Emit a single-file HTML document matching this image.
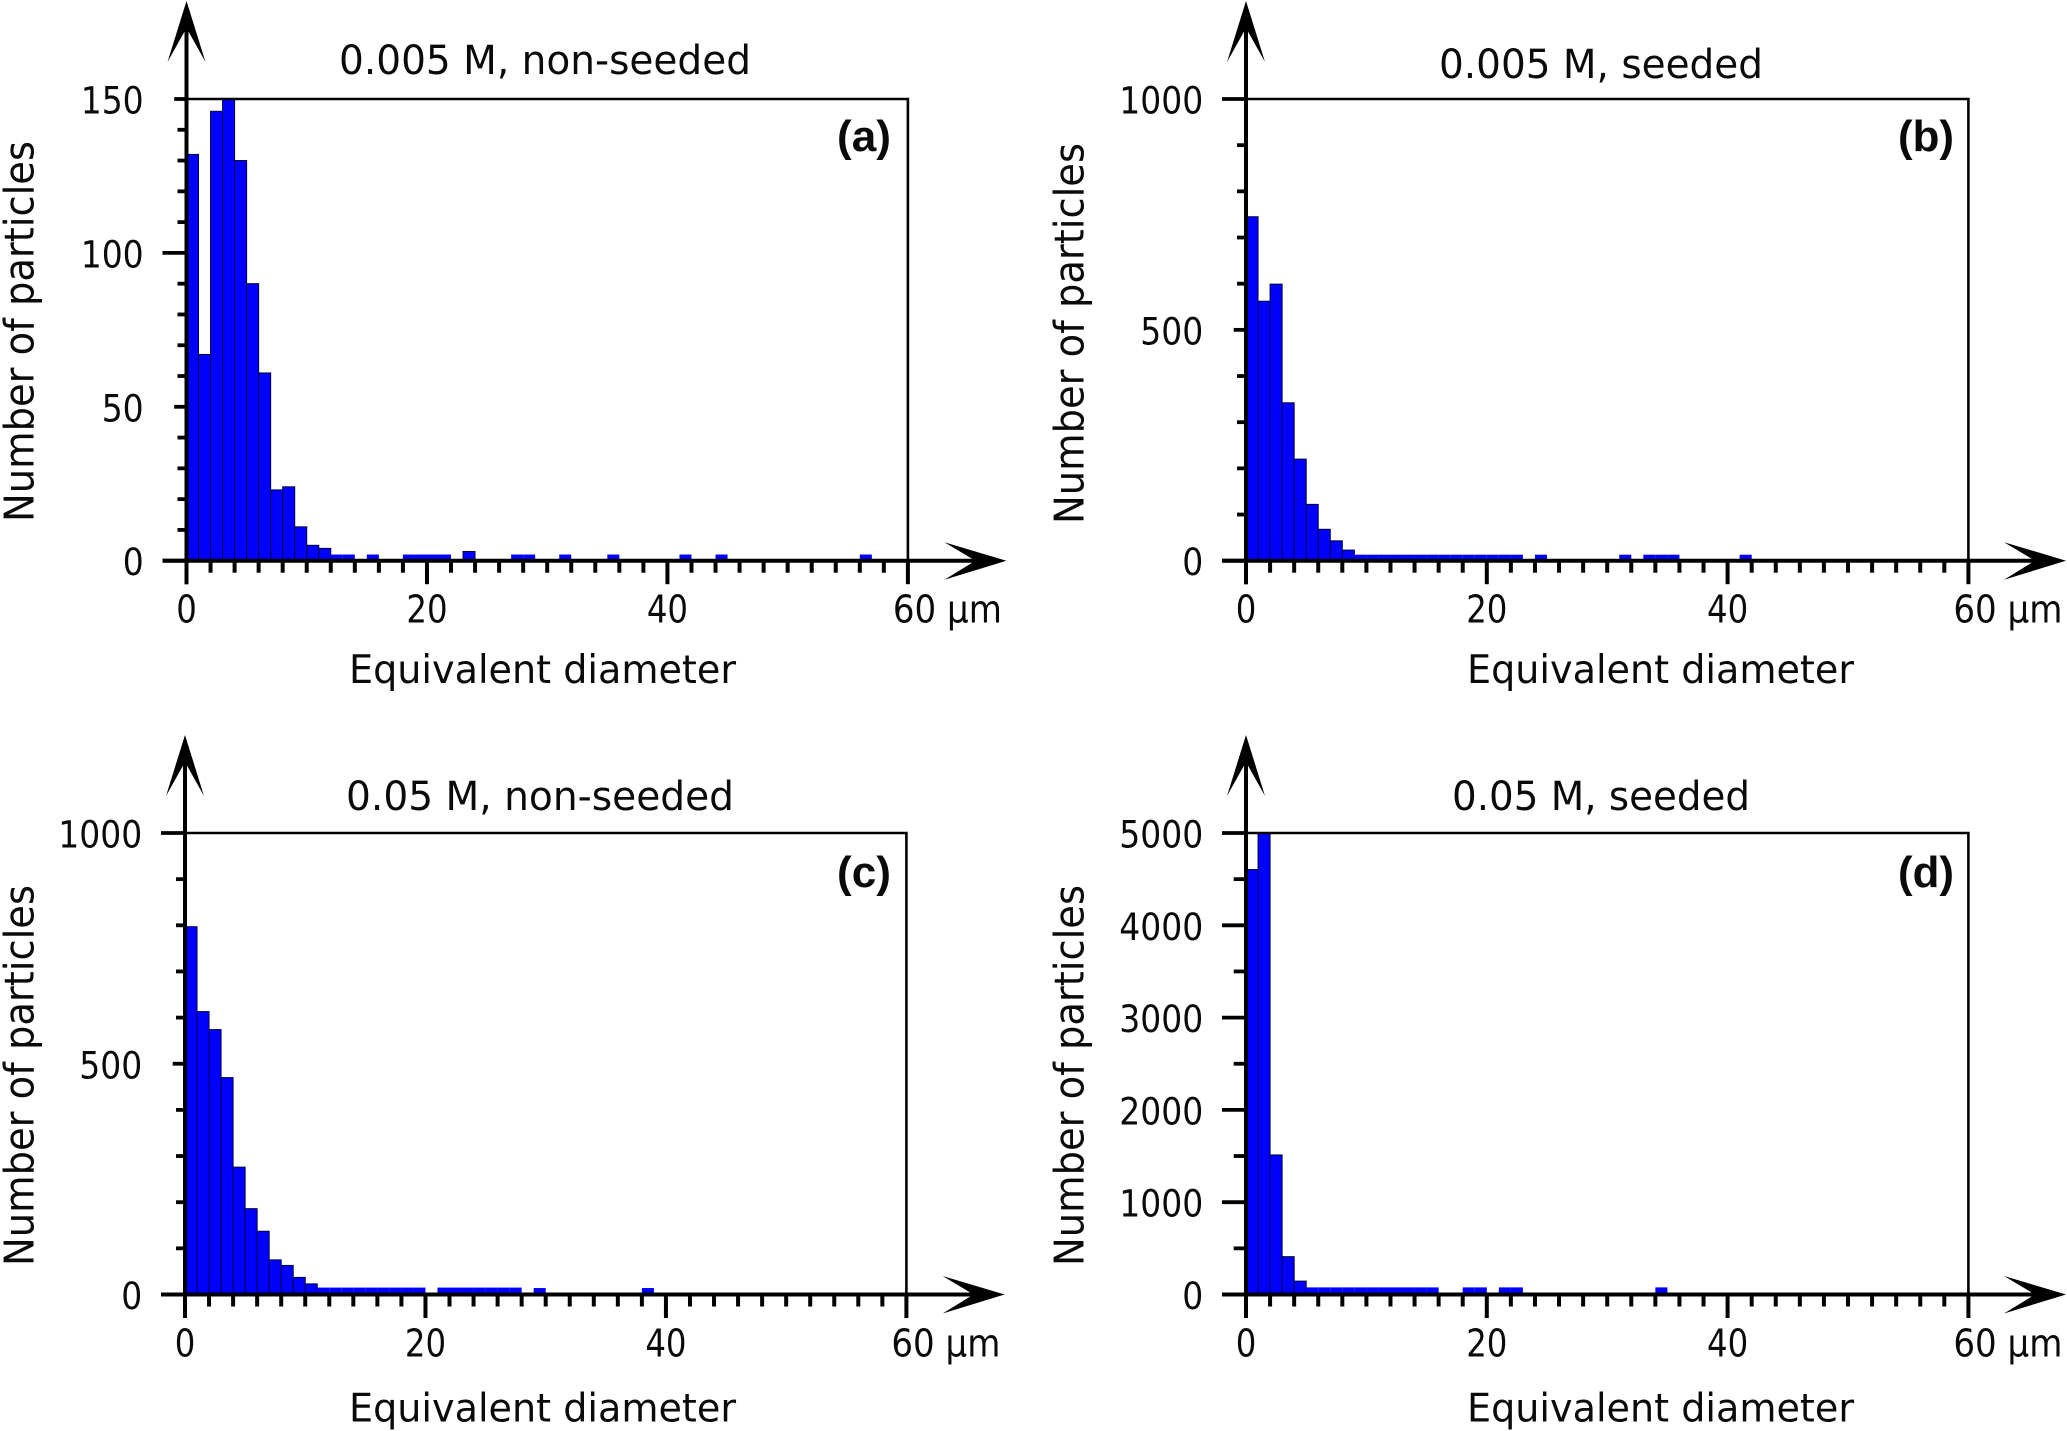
<!DOCTYPE html>
<html>
<head>
<meta charset="utf-8">
<title>Particle size histograms</title>
<style>
html,body{margin:0;padding:0;background:#fff;}
svg{display:block;}
text{font-family:"DejaVu Sans","Liberation Sans",sans-serif;fill:#0a0a0a;}
.title{font-size:40px;}
.xtitle{font-size:39px;}
.ytitle{font-size:41px;}
.letter{font-family:"Liberation Sans",sans-serif;font-weight:bold;font-size:44px;}
.tick-y{font-size:37px;}
.tick-x{font-size:38px;}
</style>
</head>
<body>
<svg id="figure" xmlns="http://www.w3.org/2000/svg" width="2067" height="1431" viewBox="0 0 2067 1431">
<rect x="0" y="0" width="2067" height="1431" fill="#ffffff"/>

<g id="panel-a">
<text class="title" x="339" y="74" textLength="412" lengthAdjust="spacingAndGlyphs">0.005 M, non-seeded</text>
<text class="letter" x="837" y="151" textLength="54" lengthAdjust="spacingAndGlyphs">(a)</text>
<text class="xtitle" x="349" y="683" textLength="387" lengthAdjust="spacingAndGlyphs">Equivalent diameter</text>
<text class="ytitle" transform="translate(33.5,522) rotate(-90)" x="0" y="0" textLength="381" lengthAdjust="spacingAndGlyphs">Number of particles</text>
</g>

<g id="panel-b">
<text class="title" x="1439" y="78" textLength="324" lengthAdjust="spacingAndGlyphs">0.005 M, seeded</text>
<text class="letter" x="1898" y="151" textLength="56" lengthAdjust="spacingAndGlyphs">(b)</text>
<text class="xtitle" x="1467" y="683" textLength="387" lengthAdjust="spacingAndGlyphs">Equivalent diameter</text>
<text class="ytitle" transform="translate(1083.5,524) rotate(-90)" x="0" y="0" textLength="381" lengthAdjust="spacingAndGlyphs">Number of particles</text>
</g>

<g id="panel-c">
<text class="title" x="346" y="810" textLength="388" lengthAdjust="spacingAndGlyphs">0.05 M, non-seeded</text>
<text class="letter" x="837" y="887" textLength="54" lengthAdjust="spacingAndGlyphs">(c)</text>
<text class="xtitle" x="349" y="1421.7" textLength="387" lengthAdjust="spacingAndGlyphs">Equivalent diameter</text>
<text class="ytitle" transform="translate(33.5,1266) rotate(-90)" x="0" y="0" textLength="381" lengthAdjust="spacingAndGlyphs">Number of particles</text>
</g>

<g id="panel-d">
<text class="title" x="1452" y="810" textLength="298" lengthAdjust="spacingAndGlyphs">0.05 M, seeded</text>
<text class="letter" x="1898" y="887" textLength="56" lengthAdjust="spacingAndGlyphs">(d)</text>
<text class="xtitle" x="1467" y="1421.7" textLength="387" lengthAdjust="spacingAndGlyphs">Equivalent diameter</text>
<text class="ytitle" transform="translate(1083.5,1266) rotate(-90)" x="0" y="0" textLength="381" lengthAdjust="spacingAndGlyphs">Number of particles</text>
</g>
</svg>

<script>
// ---- data: counts per 1 µm bin (bin 0 = 0-1 µm) ----
var countsA = [132,67,146,150,130,90,61,23,24,11,5,4,2,2,0,2,0,0,2,2,2,2,0,3,0,0,0,2,2,0,0,2,0,0,0,2,0,0,0,0,0,2,0,0,2,0,0,0,0,0,0,0,0,0,0,0,2,0,0,0];
var countsB = [745,562,599,342,220,122,68,43,23,13,13,13,13,13,13,13,13,13,13,13,13,13,13,0,13,0,0,0,0,0,0,13,0,13,13,13,0,0,0,0,0,13,0,0,0,0,0,0,0,0,0,0,0,0,0,0,0,0,0,0];
var countsC = [797,613,574,470,276,186,137,75,63,37,23,15,15,15,15,15,15,15,15,15,0,15,15,15,15,15,15,15,0,14,0,0,0,0,0,0,0,0,14,0,0,0,0,0,0,0,0,0,0,0,0,0,0,0,0,0,0,0,0,0];
var countsD = [4604,5000,1512,410,145,77,77,77,77,77,77,77,77,77,77,77,0,0,77,77,0,77,77,0,0,0,0,0,0,0,0,0,0,0,77,0,0,0,0,0,0,0,0,0,0,0,0,0,0,0,0,0,0,0,0,0,0,0,0,0];

var xTickValues = [0,20,40,60];
var xTickLabels = ['0','20','40','60 µm'];
var xMinorStep = 2;
var xMax = 60;

var yTickValuesA = [0,50,100,150];
var yTickLabelsA = ['0','50','100','150'];
var yTickValuesB = [0,500,1000];
var yTickLabelsB = ['0','500','1000'];
var yTickValuesC = [0,500,1000];
var yTickLabelsC = ['0','500','1000'];
var yTickValuesD = [0,1000,2000,3000,4000,5000];
var yTickLabelsD = ['0','1000','2000','3000','4000','5000'];

var yLongTicksA = [0,100];
var yLongTicksB = [0,1000];
var yLongTicksC = [0,1000];
var yLongTicksD = [0,1000,2000,3000,4000,5000];

var yMinorStepA = 10;
var yMinorStepB = 100;
var yMinorStepC = 100;
var yMinorStepD = 500;

var yMaxA = 150;
var yMaxB = 1000;
var yMaxC = 1000;
var yMaxD = 5000;

// ---- drawing ----
var NS = 'http://www.w3.org/2000/svg';

function make(tag, parent, geom) {
  var el = document.createElementNS(NS, tag);
  for (var k in geom) { el.setAttribute(k, geom[k]); }
  parent.appendChild(el);
  return el;
}

function drawPanel(cfg) {
  var root = document.getElementById('panel-' + cfg.id);
  var xScale = function (v) { return cfg.x0 + (cfg.x60 - cfg.x0) * v / xMax; };
  var yScale = function (v) { return cfg.yBase - (cfg.yBase - cfg.yTop) * v / cfg.yMax; };

  // bars
  var barGroup = make('g', root, {});
  
  
  cfg.counts.forEach(function (v, i) {
    if (v <= 0) { return; }
    var top = yScale(v);
    var h = cfg.yBase - top;
    var geom = { x: xScale(i), y: top, width: xScale(i + 1) - xScale(i), height: h, fill: '#0000ff' };
    if (h > 9) { geom.stroke = '#00003c'; geom['stroke-width'] = 1; }
    var bar = make('rect', barGroup, geom);
    
    
  });

  // plot frame (top and right)
  var frame = make('path', root, {
    d: 'M' + cfg.x0 + ' ' + cfg.yTop + 'H' + cfg.x60 + 'V' + cfg.yBase,
    fill: 'none', stroke: '#000', 'stroke-width': 2.6
  });
  
  

  // x-axis ticks
  for (var xv = 0; xv <= xMax; xv += xMinorStep) {
    var isMajorX = xTickValues.indexOf(xv) >= 0;
    var xt = make('line', root, {
      x1: xScale(xv), x2: xScale(xv), y1: cfg.yBase,
      y2: cfg.yBase + (isMajorX ? 23.5 : 12),
      stroke: '#000', 'stroke-width': 4
    });
    
    
  }

  // y-axis ticks
  for (var yv = 0; yv <= cfg.yMax; yv += cfg.yMinorStep) {
    var isLabelled = cfg.yTicks.indexOf(yv) >= 0;
    var isLong = cfg.yLong.indexOf(yv) >= 0;
    var len = isLong ? 24 : (isLabelled || cfg.yMinorLong ? 12.3 : 9);
    var yt = make('line', root, {
      x1: cfg.x0 - len, x2: cfg.x0, y1: yScale(yv), y2: yScale(yv),
      stroke: '#000', 'stroke-width': 3.8
    });
    
    
  }

  // axis lines
  var xAxis = make('line', root, {
    x1: cfg.x0 - 24, x2: cfg.xTip - 25, y1: cfg.yBase, y2: cfg.yBase, stroke: '#000', 'stroke-width': 4
  });
  
  

  var yAxis = make('line', root, {
    x1: cfg.x0, x2: cfg.x0, y1: cfg.yBase + 23.5, y2: cfg.yTip + 25, stroke: '#000', 'stroke-width': 4
  });
  
  

  // arrowheads
  var xHead = make('polygon', root, {
    points: cfg.xTip + ',' + cfg.yBase + ' ' + (cfg.xTip - 62) + ',' + (cfg.yBase - 18.5) + ' ' +
      (cfg.xTip - 31) + ',' + cfg.yBase + ' ' + (cfg.xTip - 62) + ',' + (cfg.yBase + 19),
    fill: '#000'
  });
  
  

  var yHead = make('polygon', root, {
    points: cfg.x0 + ',' + cfg.yTip + ' ' + (cfg.x0 - 19) + ',' + (cfg.yTip + 61) + ' ' +
      cfg.x0 + ',' + (cfg.yTip + 27) + ' ' + (cfg.x0 + 19) + ',' + (cfg.yTip + 61),
    fill: '#000'
  });
  
  

  // x tick labels
  xTickValues.forEach(function (v, i) {
    var label = xTickLabels[i];
    var w = label.length > 2 ? 109 : label.length * 20.6;
    var left = label.length > 2 ? xScale(v) - 15 : xScale(v) - w / 2;
    var t = make('text', root, {
      'class': 'tick-x', x: left, y: cfg.xLabelY, textLength: w, lengthAdjust: 'spacingAndGlyphs'
    });
    t.textContent = label;
    
    
  });

  // y tick labels
  cfg.yTicks.forEach(function (v, i) {
    var label = cfg.yLabels[i];
    var w = label.length * 21;
    var t = make('text', root, {
      'class': 'tick-y', x: cfg.yLabelRight + 1 - w, y: yScale(v) + 14.5, textLength: w, lengthAdjust: 'spacingAndGlyphs'
    });
    t.textContent = label;
    
    
  });
}

drawPanel({ id: 'a', counts: countsA, yTicks: yTickValuesA, yLabels: yTickLabelsA, yLong: yLongTicksA,
  yMinorStep: yMinorStepA, yMax: yMaxA, yMinorLong: false,
  x0: 186.5, x60: 907.9, yTop: 99, yBase: 560.7, xTip: 1006.4, yTip: 1, xLabelY: 622.7, yLabelRight: 142.7 });
drawPanel({ id: 'b', counts: countsB, yTicks: yTickValuesB, yLabels: yTickLabelsB, yLong: yLongTicksB,
  yMinorStep: yMinorStepB, yMax: yMaxB, yMinorLong: false,
  x0: 1246, x60: 1968.4, yTop: 99, yBase: 560.7, xTip: 2066, yTip: 1, xLabelY: 622.7, yLabelRight: 1202.3 });
drawPanel({ id: 'c', counts: countsC, yTicks: yTickValuesC, yLabels: yTickLabelsC, yLong: yLongTicksC,
  yMinorStep: yMinorStepC, yMax: yMaxC, yMinorLong: false,
  x0: 185, x60: 906.4, yTop: 833, yBase: 1294.5, xTip: 1004.6, yTip: 735, xLabelY: 1356.7, yLabelRight: 141.3 });
drawPanel({ id: 'd', counts: countsD, yTicks: yTickValuesD, yLabels: yTickLabelsD, yLong: yLongTicksD,
  yMinorStep: yMinorStepD, yMax: yMaxD, yMinorLong: true,
  x0: 1246, x60: 1968.4, yTop: 833, yBase: 1294.5, xTip: 2066, yTip: 735, xLabelY: 1356.7, yLabelRight: 1202.3 });
</script>
</body>
</html>
